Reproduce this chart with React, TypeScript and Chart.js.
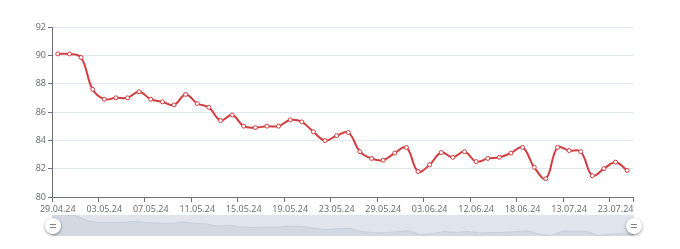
import React, { useEffect, useRef } from "react";
import { Chart, registerables } from "chart.js";

Chart.register(...registerables);

const categories: string[] = [
  "29.04.24", "30.04.24", "01.05.24", "02.05.24", "03.05.24", "04.05.24", "05.05.24", "06.05.24",
  "07.05.24", "08.05.24", "09.05.24", "10.05.24", "11.05.24", "12.05.24", "13.05.24", "14.05.24",
  "15.05.24", "16.05.24", "17.05.24", "18.05.24", "19.05.24", "20.05.24", "21.05.24", "22.05.24",
  "23.05.24", "24.05.24", "27.05.24", "28.05.24", "29.05.24", "30.05.24", "31.05.24", "01.06.24",
  "03.06.24", "04.06.24", "06.06.24", "10.06.24", "12.06.24", "13.06.24", "14.06.24", "17.06.24",
  "18.06.24", "20.06.24", "25.06.24", "04.07.24", "13.07.24", "15.07.24", "17.07.24", "19.07.24",
  "23.07.24", "25.07.24",
];

const values: number[] = [
  90.1, 90.1, 89.85, 87.6, 86.9, 87.0, 87.0, 87.43, 86.9, 86.72,
  86.5, 87.24, 86.6, 86.33, 85.4, 85.79, 85.0, 84.9, 85.0, 85.0,
  85.44, 85.3, 84.6, 83.98, 84.33, 84.55, 83.2, 82.72, 82.6, 83.1,
  83.5, 81.8, 82.28, 83.14, 82.8, 83.2, 82.5, 82.72, 82.8, 83.1,
  83.5, 82.1, 81.29, 83.5, 83.28, 83.2, 81.5, 82.0, 82.46, 81.87,
];

const yMin = 80;
const yMax = 92;
const yStep = 2;
const labelEvery = 4;

const FONT = { family: "'Noto Sans', sans-serif", size: 9 };
const AXIS_COLOR = "#6e7079";
const GRID_COLOR = "#e0e6f1";
const LINE_COLOR = "#d23c3e";

function Handle({ left }: { left: number }) {
  return (
    <div
      style={{
        position: "absolute",
        left: left - 8,
        top: 218,
        width: 16,
        height: 16,
        borderRadius: "50%",
        background: "#ffffff",
        boxShadow: "0 1px 3px rgba(0,0,0,0.45)",
        zIndex: 3,
      }}
    >
      <div style={{ position: "absolute", left: 5, top: 6, width: 6, height: 1, background: "#7d828c" }} />
      <div style={{ position: "absolute", left: 5, top: 9, width: 6, height: 1, background: "#7d828c" }} />
    </div>
  );
}

export default function App() {
  const mainRef = useRef<HTMLCanvasElement | null>(null);
  const sliderRef = useRef<HTMLCanvasElement | null>(null);

  useEffect(() => {
    if (!mainRef.current || !sliderRef.current) return;

    const main = new Chart(mainRef.current, {
      type: "line",
      data: {
        labels: categories,
        datasets: [
          {
            data: values,
            borderColor: LINE_COLOR,
            borderWidth: 2,
            tension: 0.4,
            pointRadius: 2,
            pointBorderWidth: 1,
            pointBackgroundColor: "#ffffff",
            pointBorderColor: LINE_COLOR,
            fill: false,
          },
        ],
      },
      options: {
        responsive: false,
        animation: false,
        devicePixelRatio: 1,
        layout: { padding: { left: 0, right: 47, top: 27, bottom: 0 } },
        plugins: { legend: { display: false }, tooltip: { enabled: false } },
        scales: {
          x: {
            type: "category",
            offset: true,
            grid: {
              offset: true,
              drawOnChartArea: false,
              drawTicks: true,
              tickLength: 5,
              tickColor: (ctx: any) =>
                ctx.index === undefined || ctx.index % labelEvery === 0 ? AXIS_COLOR : "rgba(0,0,0,0)",
            },
            border: { color: AXIS_COLOR, width: 1 },
            ticks: {
              autoSkip: false,
              maxRotation: 0,
              minRotation: 0,
              padding: 2,
              color: AXIS_COLOR,
              font: FONT,
              callback: (_v: any, i: number) => (i % labelEvery === 0 ? categories[i] : ""),
            },
            afterFit: (s: any) => {
              s.height = 52;
            },
          },
          y: {
            min: yMin,
            max: yMax,
            grid: { color: GRID_COLOR, tickColor: AXIS_COLOR, tickLength: 4 },
            border: { color: AXIS_COLOR, width: 1 },
            ticks: { stepSize: yStep, padding: 2, color: AXIS_COLOR, font: FONT },
            afterFit: (s: any) => {
              s.width = 52;
            },
          },
        },
      },
    });

    const slider = new Chart(sliderRef.current, {
      type: "line",
      data: {
        labels: categories,
        datasets: [
          {
            data: values,
            borderColor: "#c2cad7",
            borderWidth: 0.8,
            tension: 0,
            pointRadius: 0,
            fill: "start",
            backgroundColor: "#d3d9e3",
          },
        ],
      },
      options: {
        responsive: false,
        animation: false,
        devicePixelRatio: 1,
        layout: { padding: 0 },
        plugins: { legend: { display: false }, tooltip: { enabled: false } },
        scales: {
          x: { type: "category", display: false, offset: false },
          y: { display: false, min: Math.min(...values), max: Math.max(...values) },
        },
      },
    });

    return () => {
      main.destroy();
      slider.destroy();
    };
  }, []);

  return (
    <div style={{ position: "fixed", left: 0, top: 0, width: 680, height: 249, background: "#ffffff", overflow: "hidden" }}>
      <canvas ref={mainRef} width={680} height={249} style={{ position: "absolute", left: 0, top: 0, width: 680, height: 249 }} />
      <div
        style={{
          position: "absolute",
          left: 52,
          top: 215,
          width: 582,
          height: 21,
          background: "#e0e5ed",
          borderRadius: 2,
          overflow: "hidden",
          zIndex: 2,
        }}
      >
        <canvas ref={sliderRef} width={582} height={21} style={{ width: 582, height: 21, display: "block" }} />
      </div>
      <Handle left={53} />
      <Handle left={634} />
    </div>
  );
}
